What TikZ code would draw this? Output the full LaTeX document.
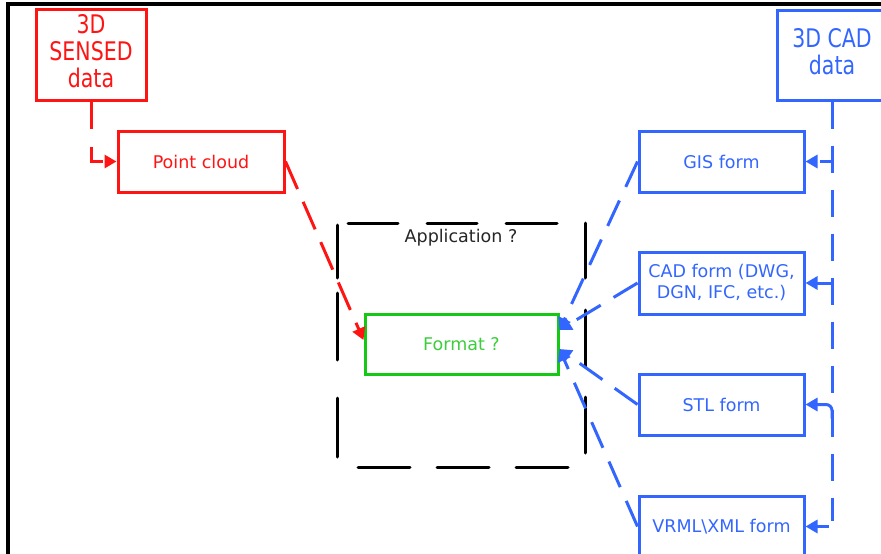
\documentclass[tikz,border=0pt]{standalone}
\usepackage{fontspec}
\setmainfont{DejaVu Sans}
\usetikzlibrary{arrows.meta,calc}
\definecolor{sred}{RGB}{255,20,20}
\definecolor{sblue}{RGB}{51,102,255}
\definecolor{sgreen}{RGB}{20,200,20}
\definecolor{tgreen}{RGB}{60,205,60}
\tikzset{
  box/.style={draw, line width=3pt, rectangle, inner sep=0pt, align=center,
    font=\fontsize{17.5}{21}\selectfont},
  redbox/.style={box, draw=sred, text=sred},
  bluebox/.style={box, draw=sblue, text=sblue, minimum width=165pt, minimum height=61pt},
  conn/.style={line width=3pt, dash pattern=on 28pt off 15pt,
    -{Triangle[length=12pt,width=13pt]}},
  appedge/.style={line width=3pt, line cap=round},
  bigtext/.style={font=\fontsize{20.5}{20}\selectfont}
}
\newcommand{\bigstack}[1]{\scalebox{1}[1.25]{\begin{tabular}{@{}c@{}}#1\end{tabular}}}
\begin{document}
\begin{tikzpicture}[x=1pt,y=-1pt]
\useasboundingbox (0,0) rectangle (881,554);
% frame
\draw[line width=3.5pt] (8,558) -- (8,4) -- (886,4);
% left side
\node[redbox, bigtext, minimum width=110pt, minimum height=91pt] (sensed) at (91,54.5)
  {\bigstack{3D\\SENSED\\data}};
\node[redbox, minimum width=166pt, minimum height=61pt] (pc) at (201,161.5) {Point cloud};
% application (dashed frame)
\draw[appedge] (348,223) -- (398,223) (427,223) -- (477,223) (506,223) -- (557,223);
\draw[appedge] (358,467) -- (410,467) (437,467) -- (489,467) (516,467) -- (568,467);
\draw[appedge] (337,225) -- (337,278) (337,293) -- (337,360) (337,398) -- (337,457);
\draw[appedge] (585,223) -- (585,278) (585,310) -- (585,367) (585,397) -- (585,453);
\node[font=\fontsize{17.5}{21}\selectfont, text=black!85] (app) at (461,238) {Application ?};
\node[box, draw=sgreen, text=tgreen, minimum width=193pt, minimum height=60pt] (fmt) at (461.5,344) {Format ?};
% right side
\node[box, bigtext, draw=sblue, text=sblue, minimum width=110pt, minimum height=90pt] (cad) at (832,55)
  {\bigstack{3D CAD\\data}};
\node[bluebox] (gis) at (721.5,161.5) {GIS form};
\node[bluebox, minimum height=62pt] (cadf) at (721.5,283) {CAD form (DWG,\\DGN, IFC, etc.)};
\node[bluebox] (stl) at (721.5,404.5) {STL form};
\node[bluebox] (vrml) at (721.5,526.5) {VRML\textbackslash XML form};
% red connectors
\draw[conn, draw=sred, dash pattern=on 27pt off 18pt] (sensed.south) |- (pc.west);
\draw[conn, draw=sred, dash pattern=on 30pt off 14pt] (pc.east) -- ([yshift=4pt]fmt.west);
% blue connectors into format
\draw[conn, draw=sblue] (gis.west) -- ([yshift=14pt]fmt.east);
\draw[conn, draw=sblue] (cadf.west) -- ([yshift=14pt]fmt.east);
\draw[conn, draw=sblue] (stl.west) -- ([yshift=-5pt]fmt.east);
\draw[conn, draw=sblue] (vrml.west) -- ([yshift=-5pt]fmt.east);
% blue distribution line
\coordinate (vend) at (cad.south |- vrml.east);
\draw[line width=3pt, draw=sblue, dash pattern=on 27pt off 17pt] (cad.south) -- ([yshift=6pt]vend);
\draw[conn, draw=sblue, dash pattern=] ([xshift=-3pt]vend) -- (vrml.east);
\draw[conn, draw=sblue, dash pattern=on 12pt off 4pt] (cad.south |- gis.east) -- (gis.east);
\draw[conn, draw=sblue, dash pattern=] (cad.south |- cadf.east) -- (cadf.east);
\draw[conn, draw=sblue, dash pattern=, rounded corners=6pt] ($(cad.south |- stl.east)+(0,14)$) |- (stl.east);
\end{tikzpicture}
\end{document}
